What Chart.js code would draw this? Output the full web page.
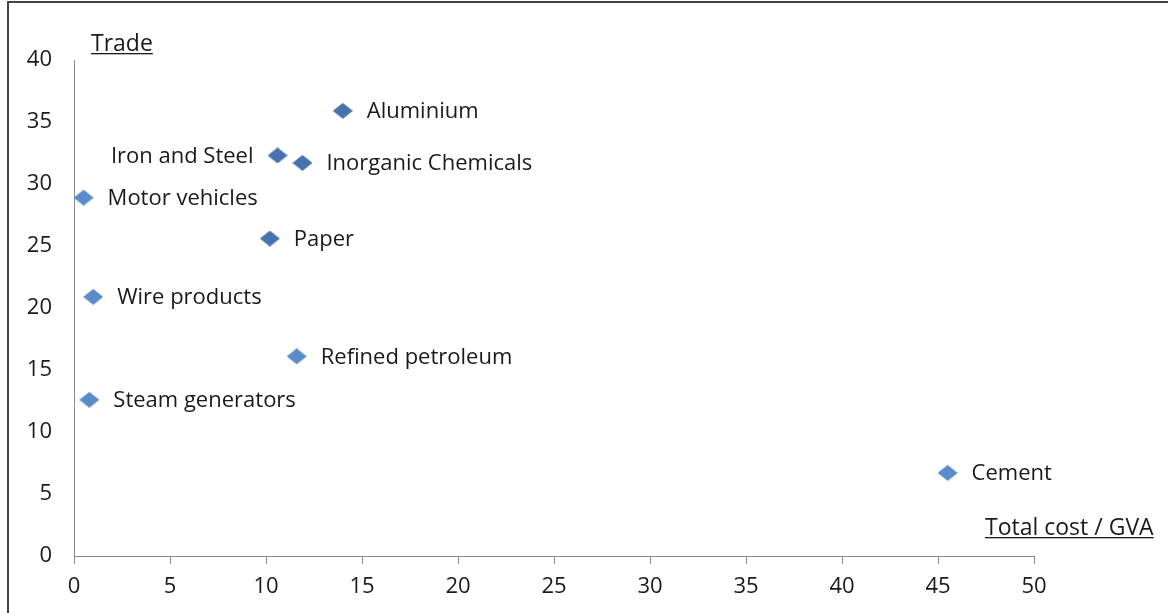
<!DOCTYPE html>
<html>
<head>
<meta charset="utf-8">
<script src="https://cdn.jsdelivr.net/npm/chart.js@4"></script>
<style>
  html, body { margin: 0; padding: 0; background: #fff; }
  #wrap { width: 1168px; height: 613px; }
</style>
</head>
<body>
<div id="wrap"><canvas id="chart"></canvas></div>
<script>
const sectors = ['Aluminium', 'Iron and Steel', 'Inorganic Chemicals', 'Motor vehicles', 'Paper',
                 'Wire products', 'Refined petroleum', 'Steam generators', 'Cement'];
const costGva = [14.0, 10.6, 11.9, 0.5, 10.2, 1.0, 11.6, 0.8, 45.5];
const trade = [35.9, 32.3, 31.7, 28.9, 25.6, 20.9, 16.1, 12.6, 6.7];
const labelSide = ['right', 'left', 'right', 'right', 'right', 'right', 'right', 'right', 'right'];
const xTicks = [0, 5, 10, 15, 20, 25, 30, 35, 40, 45, 50];
const yTicks = [0, 5, 10, 15, 20, 25, 30, 35, 40];

const FONT = '"Open Sans", sans-serif';
const AXIS = '#8a8a8a';

// flattened diamond, like the Excel marker in the picture
function diamond(w, h, color) {
    const c = document.createElement('canvas');
    c.width = w; c.height = h;
    const g = c.getContext('2d');
    g.fillStyle = color;
    g.beginPath();
    g.moveTo(w / 2, 0);
    g.lineTo(w, h / 2);
    g.lineTo(w / 2, h);
    g.lineTo(0, h / 2);
    g.closePath();
    g.fill();
    return c;
}
const darkMark = diamond(20, 16, '#4673ad');
const lightMark = diamond(20, 16, '#5a8ccb');
const markers = sectors.map((s, i) => i === 0 || i === 1 || i === 2 || i === 4 ? darkMark : lightMark);

const decorations = {
    id: 'decorations',
    afterDatasetsDraw(chart) {
        const ctx = chart.ctx;
        const meta = chart.getDatasetMeta(0);
        ctx.save();
        ctx.font = '22px ' + FONT;
        ctx.fillStyle = '#1a1a1a';
        ctx.textBaseline = 'middle';
        meta.data.forEach((pt, i) => {
            if (labelSide[i] === 'left') {
                ctx.textAlign = 'right';
                ctx.fillText(sectors[i], pt.x - 24, pt.y + 1);
            } else {
                ctx.textAlign = 'left';
                ctx.fillText(sectors[i], pt.x + 24, pt.y + 1);
            }
        });

        // underlined axis titles
        ctx.textBaseline = 'alphabetic';
        ctx.textAlign = 'left';
        ctx.font = '23px ' + FONT;
        const titles = [['Trade', 91, 51], ['Total cost / GVA', 985, 535]];
        titles.forEach(([t, x, y]) => {
            ctx.fillText(t, x, y);
            const w = ctx.measureText(t).width;
            ctx.fillRect(x, y + 2, w, 1.3);
        });

        // frame
        ctx.strokeStyle = '#444';
        ctx.lineWidth = 2;
        ctx.beginPath();
        ctx.moveTo(8, 613);
        ctx.lineTo(8, 2);
        ctx.lineTo(1168, 2);
        ctx.stroke();
        ctx.restore();
    }
};

new Chart(document.getElementById('chart'), {
    type: 'scatter',
    data: {
        datasets: [{
            data: costGva.map((x, i) => ({ x: x, y: trade[i] })),
            pointStyle: markers,
            pointRadius: 10,
            pointHoverRadius: 10
        }]
    },
    options: {
        responsive: true,
        maintainAspectRatio: false,
        animation: false,
        layout: { padding: { top: 60, right: 134, left: 0, bottom: 0 } },
        plugins: {
            legend: { display: false },
            tooltip: { enabled: false }
        },
        scales: {
            x: {
                type: 'linear',
                min: 0,
                max: 50,
                afterBuildTicks: s => { s.ticks = xTicks.map(v => ({ value: v })); },
                afterFit: s => { s.height = 57; },
                border: { display: true, color: AXIS, width: 1 },
                grid: { display: true, drawOnChartArea: false, drawTicks: true, tickLength: 8, color: AXIS },
                ticks: { color: '#1a1a1a', font: { family: FONT, size: 22 }, padding: 10 }
            },
            y: {
                type: 'linear',
                min: 0,
                max: 40,
                afterBuildTicks: s => { s.ticks = yTicks.map(v => ({ value: v })); },
                afterFit: s => { s.width = 74; },
                border: { display: true, color: AXIS, width: 1 },
                grid: { display: false },
                ticks: { color: '#1a1a1a', font: { family: FONT, size: 22 }, padding: 14 }
            }
        }
    },
    plugins: [decorations]
});
</script>
</body>
</html>
